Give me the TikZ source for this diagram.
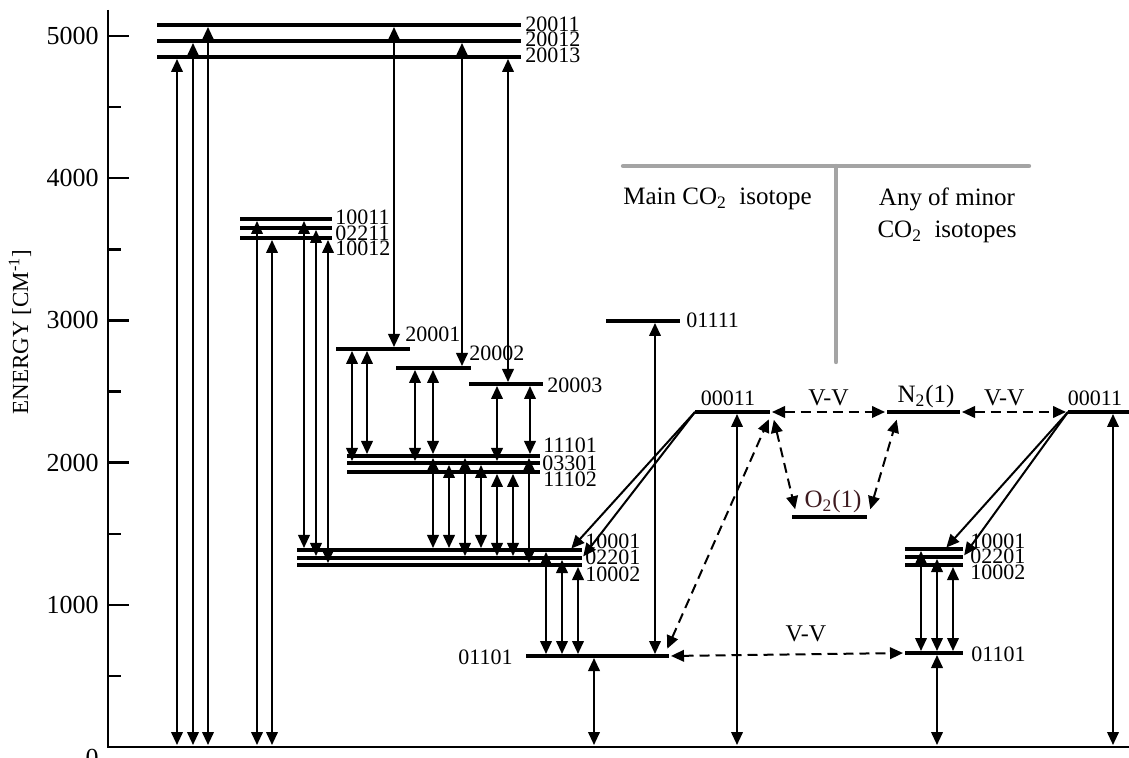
\documentclass[tikz,border=0pt]{standalone}
\usepackage{fontspec}
\setmainfont{Liberation Serif}
\usepackage{tikz}
\usetikzlibrary{arrows.meta, positioning}
\definecolor{isoGray}{HTML}{A4A4A4}
\definecolor{oxBrown}{HTML}{3E1A1F}

\begin{document}
\begin{tikzpicture}[
  x=0.5pt, y=-0.5pt,
  lvl/.style={line width=2.3pt},
  axis/.style={line width=1.2pt},
  lab/.style={font=\fontsize{11}{11}\selectfont, inner sep=0pt},
  mol/.style={font=\fontsize{12.5}{14}\selectfont, inner sep=0pt},
  num/.style={font=\fontsize{13}{13}\selectfont, inner sep=0pt, anchor=east},
  vvlab/.style={font=\fontsize{12}{12}\selectfont, inner sep=2.5pt, above},
  dbl/.style={{Triangle[length=6.5pt,width=5.8pt]}-{Triangle[length=6.5pt,width=5.8pt]},
              line width=1pt, shorten <=1pt, shorten >=1pt},
  arr/.style={-{Triangle[length=6.5pt,width=5.8pt]}, line width=1pt, shorten >=1pt},
  vv/.style={dbl, dash pattern=on 5pt off 3pt},
]
\useasboundingbox (0,0) rectangle (1129,758);

\coordinate (base) at (108,747);
\draw[axis] (108,10) -- (base) -- (1129,747);
\foreach \e in {1000,2000,...,5000} {
  \draw[axis] (108,{747-0.1422*\e}) -- ++(21,0);
  \node[num] (t\e) at (99,{747-0.1422*\e}) {\e};
}
\foreach \e in {500,1500,...,4500}
  \draw[axis] (108,{747-0.1422*\e}) -- ++(13,0);
\node[num] (t0) at (99,758) {0};
\node[rotate=90, font=\fontsize{11.5}{12}\selectfont] (elabel) at (20,332) {ENERGY [CM\textsuperscript{-1}]};

\foreach \n/\a/\b/\y in {L20011/157/521/25, L20012/157/521/41, L20013/157/521/57,
    L10011/240/332/219, L02211/240/332/228, L10012/240/332/238,
    L20001/336/410/349, L20002/396/471/368, L20003/469/543/384,
    L11101/347/540/456, L03301/347/540/463, L11102/347/540/472,
    L10001/297/582/550, L02201/297/582/558, L10002/297/582/565,
    M01101/526/669/656, L01111/606/680/321, M00011/695/770/412,
    O2/792/867/517, N2/887/960/412, R00011/1068/1129/412,
    R10001/905/963/549, R02201/905/963/557, R10002/905/963/565, R01101/905/963/653} {
  \coordinate (\n) at (\a,\y);
  \coordinate (\n-e) at (\b,\y);
  \draw[lvl] (\n) -- (\n-e);
}

\foreach \lbl/\x/\y in {20011/525/24, 20012/525/39, 20013/525/55,
    10011/335/217, 02211/335/233, 10012/335/248,
    20001/405/334, 20002/469/353, 20003/547/385,
    11101/543/445, 03301/542/463, 11102/543/479,
    10001/585/541, 02201/585/557, 10002/585/574, 01111/686/320}
  \node[lab, anchor=west] (n\lbl) at (\x,\y) {\lbl};
\foreach \lbl/\x/\y in {10001/970/541, 02201/970/556, 10002/970/572, 01101/971/654}
  \node[lab, anchor=west] (r\lbl) at (\x,\y) {\lbl};
\node[lab, anchor=east] (n01101) at (513,657) {01101};
\node[lab, anchor=base] (nM00011) at (728,406) {00011};
\node[lab, anchor=base] (nR00011) at (1095,406) {00011};
\node[mol, anchor=base] (nN2) at (926,403) {N\textsubscript{2}(1)};
\node[mol, anchor=base, text=oxBrown] (nO2) at (833,508) {O\textsubscript{2}(1)};

\foreach \x/\l in {177/L20013, 193/L20012, 208/L20011, 257/L10011, 272/L10012,
    594/M01101, 737/M00011, 937/R01101, 1113/R00011}
  \draw[dbl] (\x,0 |- base) -- (\x,0 |- \l);

\foreach \x/\a/\b in {394/L20011/L20001, 462/L20012/L20002, 508/L20013/L20003,
    304/L10011/L10001, 316/L02211/L02201, 328/L10012/L10002,
    352/L20001/L03301, 367/L20001/L11101, 415/L20002/L03301, 433/L20002/L11101,
    497/L20003/L03301, 530/L20003/L11101,
    433/L11101/L10001, 449/L03301/L10001, 465/L11101/L02201, 481/L03301/L10001,
    497/L11102/L02201, 513/L11102/L02201, 529/L11101/L10002,
    546/L10001/M01101, 562/L02201/M01101, 578/L10002/M01101, 655/M01101/L01111,
    921/R10001/R01101, 937/R02201/R01101, 953/R10002/R01101}
  \draw[dbl] (\x,0 |- \a) -- (\x,0 |- \b);

\draw[arr] (M00011) -- (570,0 |- L10001);
\draw[arr] (M00011) -- (L02201-e);
\draw[arr] (R00011) -- (945,0 |- R10001);
\draw[arr] (R00011) -- (R02201-e);

\draw[vv] (M00011-e) -- node[vvlab] (vv1) {V-V} (N2);
\draw[vv] (N2-e) -- node[vvlab, pos=.41] (vv2) {V-V} (R00011);
\draw[vv] (M01101-e) -- node[vvlab, pos=.58, above=3pt] (vv3) {V-V} (R01101);
\draw[vv, shorten <=4pt, shorten >=4pt] (664,0 |- M01101) -- (772,0 |- M00011);
\draw[vv, shorten <=4pt, shorten >=4pt] (772,0 |- M00011) -- (797,0 |- O2);
\draw[vv, shorten <=4pt, shorten >=4pt] (868,0 |- O2) -- (899,0 |- N2);

\draw[isoGray, line width=2.2pt, line cap=round] (623,166) -- (1029,166) (836,166) -- (836,362);
\node[mol, anchor=base west] (mainiso) at (623,205) {Main CO\textsubscript{2}\ \ isotope};
\node[mol, anchor=north, align=center, font=\fontsize{12.5}{16}\selectfont] (minoriso) at (947,188) {Any of minor\\CO\textsubscript{2}\ \ isotopes};
\end{tikzpicture}
\end{document}
